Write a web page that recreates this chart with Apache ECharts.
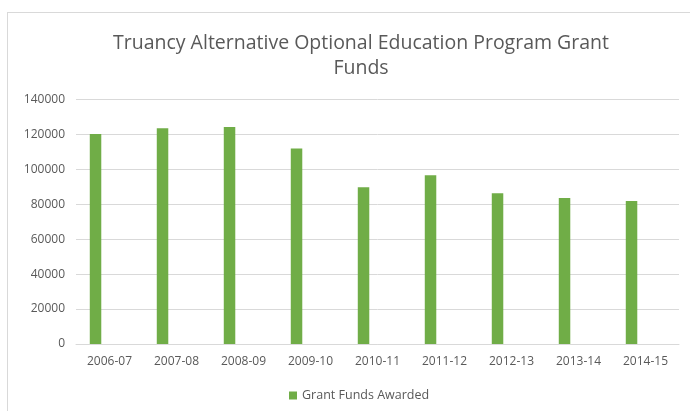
<!DOCTYPE html>
<html>
<head>
<meta charset="utf-8">
<script src="https://cdn.jsdelivr.net/npm/echarts@6/dist/echarts.min.js"></script>
<style>
  html, body { margin: 0; padding: 0; background: #fff; }
  #wrap { position: relative; width: 690px; height: 411px; }
  #frame { position: absolute; left: 7px; top: 12px; right: 0; bottom: 0;
           border-left: 1.5px solid #d9d9d9; border-top: 1.5px solid #d9d9d9; pointer-events: none; }
  #chart { width: 690px; height: 411px; }
</style>
</head>
<body>
<div id="wrap">
  <div id="chart"></div>
  <div id="frame"></div>
</div>
<script>
const titleText = 'Truancy Alternative Optional Education Program Grant\nFunds';
const years = ['2006-07', '2007-08', '2008-09', '2009-10', '2010-11', '2011-12', '2012-13', '2013-14', '2014-15'];
const grantFunds = [120300, 123500, 124300, 112000, 89800, 96600, 86300, 83600, 81900];
const yTicks = [0, 20000, 40000, 60000, 80000, 100000, 120000, 140000];

var textColor = '#595959';
var myChart = echarts.init(document.getElementById('chart'));
var option = {
  animation: false,
  textStyle: { fontFamily: 'Open Sans' },
  title: {
    text: titleText,
    left: 356,
    textAlign: 'center',
    top: 26,
    textStyle: { color: textColor, fontSize: 19.5, fontWeight: 'normal', lineHeight: 25, fontFamily: 'Open Sans' }
  },
  legend: {
    data: ['Grant Funds Awarded'],
    bottom: 4,
    left: 284,
    icon: 'rect',
    itemWidth: 8,
    itemHeight: 8,
    itemGap: 5,
    textStyle: { color: textColor, fontSize: 12.5 }
  },
  grid: { left: 76, right: 11, top: 99.5, bottom: 67, containLabel: false },
  xAxis: {
    type: 'category',
    data: years,
    axisLine: { lineStyle: { color: '#d9d9d9' } },
    axisTick: { show: false },
    axisLabel: { color: textColor, fontSize: 12, margin: 12 }
  },
  yAxis: {
    type: 'value',
    min: yTicks[0],
    max: yTicks[yTicks.length - 1],
    interval: 20000,
    axisLine: { show: false },
    axisTick: { show: false },
    axisLabel: { color: textColor, fontSize: 12, margin: 11, formatter: function (v) { return String(v); } },
    splitLine: { lineStyle: { color: '#d9d9d9' } }
  },
  series: [
    {
      name: 'Grant Funds Awarded',
      type: 'bar',
      data: grantFunds,
      barWidth: 11.5,
      barGap: '143%',
      itemStyle: { color: '#70ad47' }
    },
    {
      name: 'empty',
      type: 'bar',
      data: [],
      barWidth: 11.5
    }
  ]
};
myChart.setOption(option);
</script>
</body>
</html>
